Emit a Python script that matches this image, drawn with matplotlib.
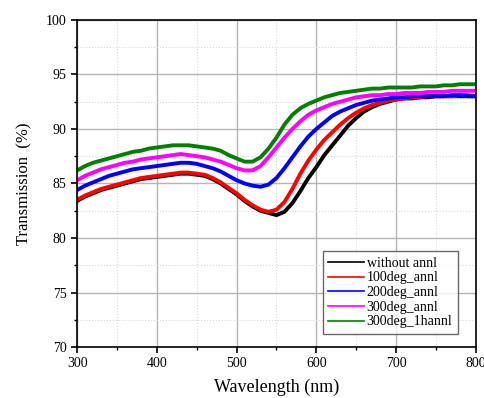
import matplotlib
matplotlib.use("Agg")
import matplotlib.pyplot as plt
from matplotlib.ticker import MultipleLocator

plt.rcParams["font.family"] = "serif"
plt.rcParams["font.serif"] = ["Liberation Serif", "DejaVu Serif"]

# wavelength grid (nm), values every 10 nm
wavelength = list(range(300, 801, 10))

without_annl = [83.4, 83.8, 84.1, 84.4, 84.6, 84.8, 85.0, 85.2, 85.4, 85.5,
                85.6, 85.7, 85.8, 85.9, 85.9, 85.8, 85.7, 85.4, 85.0, 84.5,
                84.0, 83.4, 82.9, 82.5, 82.3, 82.1, 82.4, 83.2, 84.3, 85.5,
                86.5, 87.6, 88.5, 89.4, 90.3, 91.0, 91.6, 92.0, 92.3, 92.5,
                92.7, 92.8, 92.8, 92.9, 92.9, 93.0, 93.0, 93.0, 93.0, 93.0,
                93.0]
deg100_annl = [83.5, 83.9, 84.2, 84.5, 84.7, 84.9, 85.1, 85.3, 85.5, 85.6,
               85.7, 85.8, 85.9, 86.0, 86.0, 85.9, 85.8, 85.5, 85.1, 84.6,
               84.1, 83.5, 83.0, 82.6, 82.4, 82.6, 83.3, 84.5, 85.9, 87.1,
               88.1, 89.0, 89.7, 90.4, 91.0, 91.5, 91.9, 92.2, 92.4, 92.6,
               92.7, 92.8, 92.9, 92.9, 93.0, 93.0, 93.0, 93.0, 93.1, 93.1,
               93.0]
deg200_annl = [84.4, 84.8, 85.1, 85.4, 85.7, 85.9, 86.1, 86.3, 86.4, 86.5,
               86.6, 86.7, 86.8, 86.9, 86.9, 86.8, 86.6, 86.4, 86.1, 85.7,
               85.3, 85.0, 84.8, 84.7, 84.9, 85.5, 86.4, 87.4, 88.4, 89.3,
               90.0, 90.6, 91.2, 91.6, 91.9, 92.2, 92.4, 92.6, 92.7, 92.8,
               92.9, 92.9, 93.0, 93.0, 93.0, 93.0, 93.0, 93.1, 93.1, 93.0,
               93.0]
deg300_annl = [85.3, 85.7, 86.0, 86.3, 86.5, 86.7, 86.9, 87.0, 87.2, 87.3,
               87.4, 87.5, 87.6, 87.7, 87.6, 87.5, 87.4, 87.2, 87.0, 86.7,
               86.4, 86.2, 86.2, 86.6, 87.4, 88.3, 89.2, 90.0, 90.7, 91.3,
               91.7, 92.0, 92.3, 92.5, 92.7, 92.9, 93.0, 93.1, 93.1, 93.2,
               93.2, 93.3, 93.3, 93.3, 93.4, 93.4, 93.4, 93.5, 93.5, 93.5,
               93.5]
deg300_1h_annl = [86.2, 86.6, 86.9, 87.1, 87.3, 87.5, 87.7, 87.9, 88.0, 88.2,
                  88.3, 88.4, 88.5, 88.5, 88.5, 88.4, 88.3, 88.2, 88.0, 87.6,
                  87.3, 87.0, 87.0, 87.4, 88.2, 89.2, 90.4, 91.3, 91.9, 92.3,
                  92.6, 92.9, 93.1, 93.3, 93.4, 93.5, 93.6, 93.7, 93.7, 93.8,
                  93.8, 93.8, 93.8, 93.9, 93.9, 93.9, 94.0, 94.0, 94.1, 94.1,
                  94.1]

series = [
    ("without annl", without_annl, "black"),
    ("100deg_annl", deg100_annl, "#ff0000"),
    ("200deg_annl", deg200_annl, "#0000ff"),
    ("300deg_annl", deg300_annl, "#ff00ff"),
    ("300deg_1hannl", deg300_1h_annl, "#008000"),
]

fig = plt.figure(figsize=(4.85, 3.98), dpi=100)
ax = fig.add_axes([0.159, 0.128, 0.822, 0.822])

for label, values, color in series:
    ax.plot(wavelength, values, color=color, linewidth=2.8, label=label)

ax.set_xlim(300, 800)
ax.set_ylim(70, 100)
ax.xaxis.set_major_locator(MultipleLocator(100))
ax.xaxis.set_minor_locator(MultipleLocator(50))
ax.yaxis.set_major_locator(MultipleLocator(5))
ax.yaxis.set_minor_locator(MultipleLocator(2.5))

ax.grid(True, which="major", color="#b4b4b4", linewidth=1.0)
ax.grid(True, which="minor", color="#d8d8d8", linestyle=":", linewidth=0.8)
ax.set_axisbelow(True)

ax.tick_params(which="major", direction="out", length=4, width=1.2, labelsize=10)
ax.tick_params(which="minor", direction="out", length=2.5, width=1.0)
for sp in ax.spines.values():
    sp.set_linewidth(1.2)

ax.set_xlabel("Wavelength (nm)", fontsize=13, labelpad=6)
ax.set_ylabel("Transmission  (%)", fontsize=12, labelpad=10)

leg = ax.legend(loc="lower right", bbox_to_anchor=(0.955, 0.04), fontsize=10,
                frameon=True, fancybox=False, edgecolor="#444444",
                handlelength=2.6, handletextpad=0.15, labelspacing=0.12,
                borderpad=0.4, borderaxespad=0.0)
leg.get_frame().set_linewidth(1.0)
for line in leg.get_lines():
    line.set_linewidth(1.2)

fig.savefig("out.png", dpi=100)
